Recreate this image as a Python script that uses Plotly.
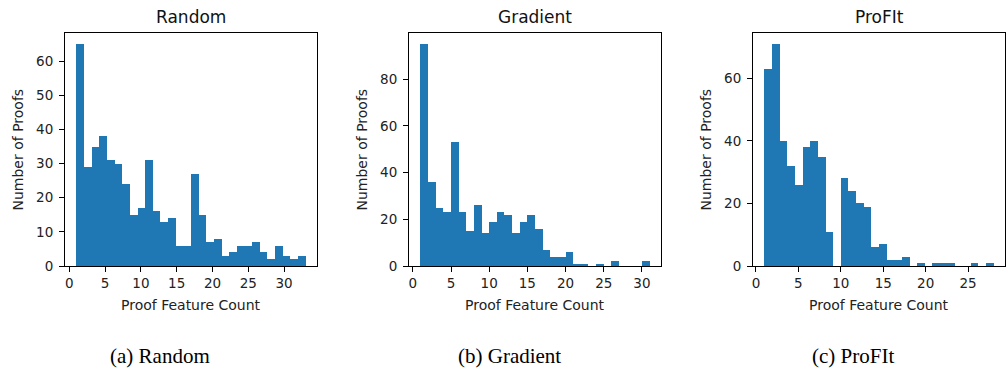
import numpy as np
import plotly.graph_objects as go

# ---- data (bin counts) ----
random_counts = [65, 29, 35, 38, 31, 30, 24, 15, 17, 31, 16, 13, 14, 6, 6,
                 27, 15, 7, 8, 3, 4, 6, 6, 7, 4, 2, 6, 3, 2, 3]
random_range = (1, 33)

gradient_counts = [95, 36, 25, 23, 53, 23, 15, 26, 14, 19, 23, 22, 14, 19, 22,
                   16, 7, 4, 4, 6, 1, 1, 0, 1, 0, 2, 0, 0, 0, 2]
gradient_range = (1, 31)

profit_counts = [63, 71, 40, 32, 26, 38, 40, 35, 11, 0, 28, 24, 20, 19, 6,
                 7, 2, 2, 3, 0, 1, 0, 1, 1, 1, 0, 0, 1, 0, 1]
profit_range = (1, 28)

titles = ["Random", "Gradient", "ProFIt"]
captions = ["(a) Random", "(b) Gradient", "(c) ProFIt"]
y_ticks = [[0, 10, 20, 30, 40, 50, 60], [0, 20, 40, 60, 80], [0, 20, 40, 60]]
x_ticks = [[0, 5, 10, 15, 20, 25, 30], [0, 5, 10, 15, 20, 25, 30], [0, 5, 10, 15, 20, 25]]

W, H = 1008, 375
BLUE = "#1f77b4"
px_left = [65, 409, 753]
px_right = [317, 661, 1005]
px_top, px_bottom = 33, 266
caption_x = [160, 509, 853]

series = [(random_counts, random_range), (gradient_counts, gradient_range),
          (profit_counts, profit_range)]

fig = go.Figure()
annotations = []
layout_axes = {}

for i, (counts, (lo, hi)) in enumerate(series):
    n = len(counts)
    edges = np.linspace(lo, hi, n + 1)
    centers = (edges[:-1] + edges[1:]) / 2
    width = edges[1] - edges[0]
    sfx = "" if i == 0 else str(i + 1)
    fig.add_trace(go.Bar(
        x=centers, y=counts, width=[width] * n,
        marker=dict(color=BLUE, line=dict(width=0)),
        xaxis="x" + sfx, yaxis="y" + sfx, showlegend=False,
        hoverinfo="x+y",
    ))
    span = hi - lo
    xr = [lo - 0.05 * span, hi + 0.05 * span]
    yr = [0, max(counts) * 1.05]
    xd = [px_left[i] / W, px_right[i] / W]
    yd = [(H - px_bottom) / H, (H - px_top) / H]
    common = dict(showline=True, linecolor="black", linewidth=1, mirror=True,
                  ticks="outside", ticklen=5, tickwidth=1, tickcolor="black",
                  showgrid=False, zeroline=False, automargin=False,
                  tickfont=dict(family="DejaVu Sans", size=13.5, color="#222"))
    layout_axes["xaxis" + sfx] = dict(common, domain=xd, range=xr,
                                      tickmode="array", tickvals=x_ticks[i],
                                      anchor="y" + sfx)
    layout_axes["yaxis" + sfx] = dict(common, domain=yd, range=yr,
                                      tickmode="array", tickvals=y_ticks[i],
                                      anchor="x" + sfx, ticklabelstandoff=3)
    cx = (px_left[i] + px_right[i]) / 2 / W
    # subplot title
    annotations.append(dict(text=titles[i], x=cx, y=(H - 17) / H, xref="paper",
                            yref="paper", showarrow=False, xanchor="center",
                            yanchor="middle",
                            font=dict(family="DejaVu Sans", size=17, color="#111")))
    # x axis title
    annotations.append(dict(text="Proof Feature Count", x=cx, y=(H - 305) / H,
                            xref="paper", yref="paper", showarrow=False,
                            xanchor="center", yanchor="middle",
                            font=dict(family="DejaVu Sans", size=14, color="#222")))
    # y axis title
    annotations.append(dict(text="Number of Proofs", x=(px_left[i] - 47) / W,
                            y=(H - (px_top + px_bottom) / 2) / H,
                            xref="paper", yref="paper", showarrow=False,
                            textangle=-90, xanchor="center", yanchor="middle",
                            font=dict(family="DejaVu Sans", size=14, color="#222")))
    # caption
    annotations.append(dict(text=captions[i], x=caption_x[i] / W, y=(H - 356) / H,
                            xref="paper", yref="paper", showarrow=False,
                            xanchor="center", yanchor="middle",
                            font=dict(family="Liberation Serif", size=21, color="black")))

fig.update_layout(
    width=W, height=H, margin=dict(l=0, r=0, t=0, b=0, autoexpand=False),
    paper_bgcolor="white", plot_bgcolor="white", template="none",
    bargap=0, annotations=annotations, **layout_axes,
)

fig.write_html("out.html")
